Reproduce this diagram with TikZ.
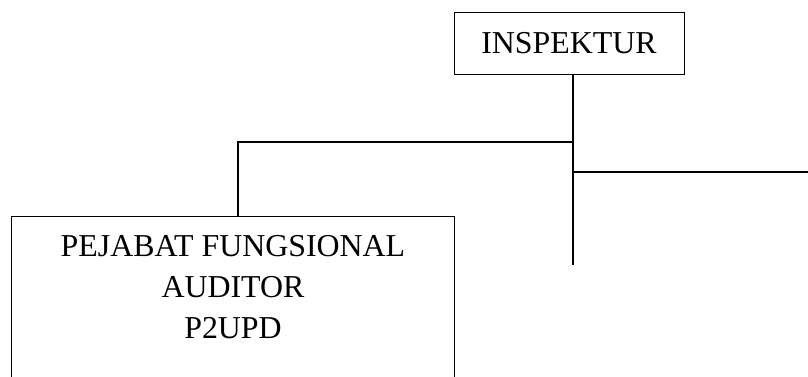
\documentclass[tikz,border=0pt]{standalone}
\usepackage{fontspec}
\setmainfont{Liberation Serif}
\usetikzlibrary{positioning}

\begin{document}
\begin{tikzpicture}[x=1bp,y=-1bp,
    unit/.style={draw,line width=1bp,align=center,font=\fontsize{32}{41}\selectfont},
    link/.style={line width=1.5bp}]
  \useasboundingbox (0,0) rectangle (808,376);
  \node[unit,minimum width=230bp,minimum height=62bp] (insp) at (569,43) {INSPEKTUR};
  \node[unit,anchor=north,minimum width=442bp,inner ysep=19bp,text depth=90bp] (fung) at (233,216)
       {PEJABAT FUNGSIONAL\\AUDITOR\\P2UPD};
  \coordinate (jl)   at (573,142);
  \coordinate (jr)   at (573,172);
  \coordinate (stem) at (573,265);
  \coordinate (jf)   at (238,142);
  \coordinate (rend) at (808,172);
  \draw[link] (insp.south -| stem) -- (stem);
  \draw[link] (jf |- fung.north) -- (jf) -- (jl);
  \draw[link] (jr) -- (rend);
\end{tikzpicture}
\end{document}
